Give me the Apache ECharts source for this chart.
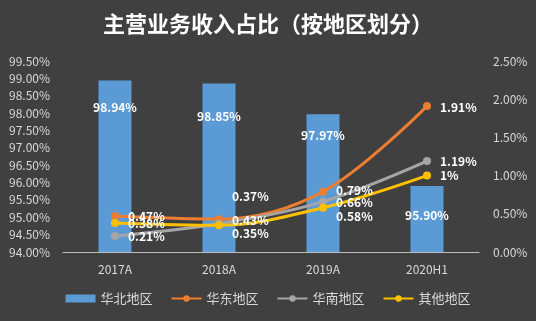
<!DOCTYPE html>
<html>
<head>
<meta charset="utf-8">
<script src="https://cdn.jsdelivr.net/npm/echarts@6/dist/echarts.min.js"></script>
<style>
  html, body { margin: 0; padding: 0; background: #404040; }
  #chart { width: 536px; height: 321px; }
</style>
</head>
<body>
<div id="chart"></div>
<script>
// Revenue share by region
const categories = ['2017A', '2018A', '2019A', '2020H1'];
const northValues = [98.94, 98.85, 97.97, 95.90];   // 华北地区, left axis (%)
const eastValues = [0.47, 0.43, 0.79, 1.91];        // 华东地区, right axis (%)
const southValues = [0.21, 0.37, 0.66, 1.19];       // 华南地区, right axis (%)
const otherValues = [0.38, 0.35, 0.58, 1.00];       // 其他地区, right axis (%)
const leftTicks = { min: 94, max: 99.5, step: 0.5 };
const rightTicks = { min: 0, max: 2.5, step: 0.5 };

const font = '"Noto Sans CJK SC", "Noto Sans", sans-serif';
const labelColor = '#d9d9d9';

// distance (px) from each bar's top edge to the centre of its value label
const barLabelDepth = [27, 33, 21, 29];
// vertical nudges for the line value labels so they don't collide
const lineLabelShift = {
  east: [0, 1, -1, 1],
  south: [0, -27, 1, 0],
  other: [0, 8, 9, 0]
};

function fmtPct(v) {
  return (Math.round(v * 100) / 100) + '%';
}

function lineSeries(name, values, color, shifts) {
  return {
    name: name,
    type: 'line',
    yAxisIndex: 1,
    smooth: 0.35,
    symbol: 'circle',
    symbolSize: 8,
    lineStyle: { color: color, width: 3 },
    itemStyle: { color: color },
    z: 3,
    data: values.slice(),
    label: {
      show: true,
      position: 'right',
      distance: 9,
      color: '#ffffff',
      fontWeight: 'bold',
      fontSize: 12,
      fontFamily: font,
      formatter: p => fmtPct(p.value)
    },
    labelLayout: p => ({ dy: shifts[p.dataIndex] })
  };
}

const chart = echarts.init(document.getElementById('chart'));
chart.setOption({
  backgroundColor: '#404040',
  animation: false,
  title: {
    text: '主营业务收入占比（按地区划分）',
    left: 'center',
    top: 8,
    textStyle: { color: '#ffffff', fontSize: 22, fontWeight: 'bold', fontFamily: font }
  },
  legend: {
    bottom: 11,
    left: 'center',
    itemWidth: 30,
    itemHeight: 8,
    itemGap: 18,
    textStyle: { color: labelColor, fontSize: 13, fontFamily: font },
    data: [
      { name: '华北地区', icon: 'rect' },
      '华东地区', '华南地区', '其他地区'
    ]
  },
  grid: { left: 63, right: 57, top: 61, bottom: 69 },
  xAxis: {
    type: 'category',
    data: categories,
    axisLine: { lineStyle: { color: '#bfbfbf', width: 1 } },
    axisTick: { show: false },
    axisLabel: { color: labelColor, fontSize: 12, fontFamily: font, margin: 11 }
  },
  yAxis: [
    {
      type: 'value',
      min: leftTicks.min,
      max: leftTicks.max,
      interval: leftTicks.step,
      splitLine: { show: false },
      axisLine: { show: false },
      axisTick: { show: false },
      axisLabel: {
        color: labelColor, fontSize: 12, fontFamily: font, margin: 13,
        formatter: v => v.toFixed(2) + '%'
      }
    },
    {
      type: 'value',
      min: rightTicks.min,
      max: rightTicks.max,
      interval: rightTicks.step,
      splitLine: { show: false },
      axisLine: { show: false },
      axisTick: { show: false },
      axisLabel: {
        color: labelColor, fontSize: 12, fontFamily: font, margin: 14,
        formatter: v => v.toFixed(2) + '%'
      }
    }
  ],
  series: [
    {
      name: '华北地区',
      type: 'bar',
      barWidth: 33,
      itemStyle: { color: '#5b9bd5' },
      z: 2,
      data: northValues.map((v, i) => ({
        value: v,
        label: { position: ['50%', barLabelDepth[i]] }
      })),
      label: {
        show: true,
        align: 'center',
        verticalAlign: 'middle',
        color: '#ffffff',
        fontWeight: 'bold',
        fontSize: 12,
        fontFamily: font,
        formatter: p => p.value.toFixed(2) + '%'
      }
    },
    lineSeries('华东地区', eastValues, '#ed7d31', lineLabelShift.east),
    lineSeries('华南地区', southValues, '#a5a5a5', lineLabelShift.south),
    lineSeries('其他地区', otherValues, '#ffc000', lineLabelShift.other)
  ]
});
</script>
</body>
</html>
